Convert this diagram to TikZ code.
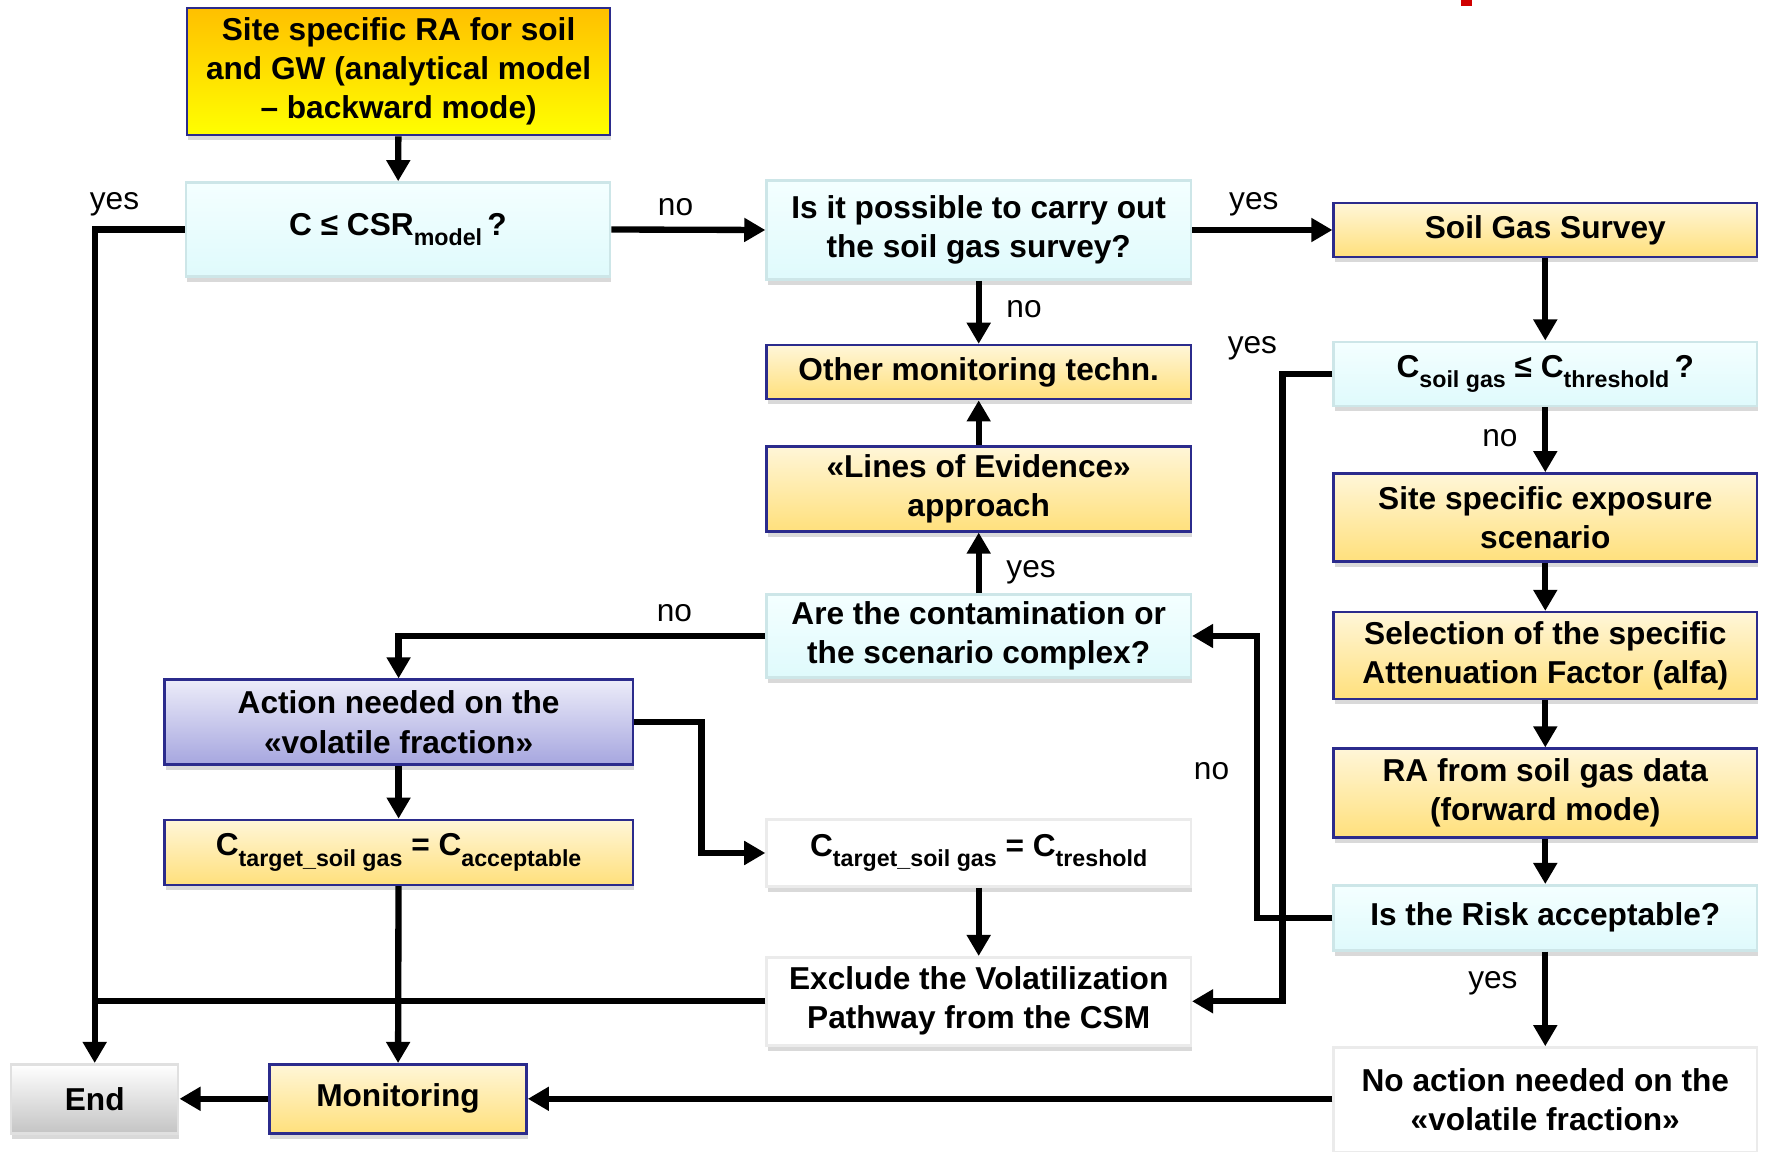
\documentclass[tikz,border=0pt]{standalone}
\usepackage{fontspec}
\setmainfont{Liberation Sans}
\usetikzlibrary{arrows.meta,shadows}

\definecolor{navyline}{HTML}{2B2B8C}
\definecolor{goldtop}{HTML}{FFC000}
\definecolor{goldbot}{HTML}{FFFF00}
\definecolor{creamtop}{HTML}{FFF6D8}
\definecolor{creambot}{HTML}{FFE07C}
\definecolor{icetop}{HTML}{F4FFFF}
\definecolor{icebot}{HTML}{DFFAFC}
\definecolor{iceline}{HTML}{CDE6E8}
\definecolor{lilactop}{HTML}{ECECF9}
\definecolor{lilacbot}{HTML}{A6A6DF}
\definecolor{greybot}{HTML}{C4C4C4}
\definecolor{markred}{HTML}{D00000}

\newcommand{\lowsub}[1]{\raisebox{-0.6ex}{\fontsize{6.6}{7}\selectfont #1}}

\begin{document}
\begin{tikzpicture}[x=0.01cm, y=-0.01cm, >={Triangle[length=6pt,width=6.5pt]},
	box/.style = {rectangle, align=center, inner sep=0pt, minimum width=4.24cm,
		font=\fontsize{9}{11.1}\selectfont\bfseries,
		drop shadow={shadow xshift=0.3pt, shadow yshift=-1.5pt, opacity=0.3}},
	gold/.style = {box, draw=navyline, line width=0.7pt, top color=goldtop, bottom color=goldbot},
	cream/.style = {box, draw=navyline, line width=0.7pt, top color=creamtop, bottom color=creambot},
	ice/.style = {box, draw=iceline, line width=0.7pt, top color=icetop, bottom color=icebot},
	lilac/.style = {box, draw=navyline, line width=0.7pt, top color=lilactop, bottom color=lilacbot},
	plain/.style = {box, draw=black!8, line width=0.7pt, fill=white},
	grey/.style = {box, draw=black!12, line width=0.7pt, top color=white, bottom color=greybot},
	lbl/.style = {inner xsep=7pt, inner ysep=3pt, font=\fontsize{9}{10.7}\selectfont},
	conn/.style = {line width=1.8pt},
	flow/.style = {conn, ->}]
	\useasboundingbox (0,0) rectangle (1768,1152);
	\fill[markred] (1461,0) rectangle (1472,6);

	\node[gold, minimum width=4.23cm, minimum height=1.27cm] (ra) at (398.6,71.6) {Site specific RA for soil\\and GW (analytical model\\– backward mode)};
	\node[ice, minimum height=0.94cm] (csr) at (398,229.5) {C ≤ CSR\lowsub{model}\,?};
	\node[ice, minimum height=0.99cm] (possible) at (978.7,230) {Is it possible to carry out\\the soil gas survey?};
	\node[cream, minimum width=4.23cm, minimum height=0.54cm] (survey) at (1545.3,230) {Soil Gas Survey};
	\node[cream, minimum height=0.54cm] (other) at (978.7,372.1) {Other monitoring techn.};
	\node[cream, minimum height=0.85cm] (loe) at (978.7,488.8) {«Lines of Evidence»\\approach};
	\node[ice, minimum height=0.83cm] (complex) at (978.7,636) {Are the contamination or\\the scenario complex?};
	\node[ice, minimum width=4.23cm, minimum height=0.64cm] (csoil) at (1545.3,373.8) {C\lowsub{soil gas} ≤ C\lowsub{threshold}\,?};
	\node[cream, minimum width=4.23cm, minimum height=0.88cm] (expo) at (1545.3,517.5) {Site specific exposure\\scenario};
	\node[cream, minimum width=4.23cm, minimum height=0.87cm] (alfa) at (1545.3,655.7) {Selection of the specific\\Attenuation Factor (alfa)};
	\node[cream, minimum width=4.23cm, minimum height=0.89cm] (forward) at (1545.3,793.2) {RA from soil gas data\\(forward mode)};
	\node[ice, minimum width=4.23cm, minimum height=0.65cm] (risk) at (1545.3,917.8) {Is the Risk acceptable?};
	\node[plain, minimum width=4.23cm, minimum height=1.05cm] (noaction) at (1545.3,1100) {No action needed on the\\«volatile fraction»};
	\node[lilac, minimum width=4.68cm, minimum height=0.85cm] (action) at (398.6,722.2) {Action needed on the\\«volatile fraction»};
	\node[cream, minimum width=4.68cm, minimum height=0.65cm] (cacc) at (398.6,852.4) {C\lowsub{target\_soil gas} = C\lowsub{acceptable}};
	\node[plain, minimum height=0.67cm] (ctres) at (978.7,853) {C\lowsub{target\_soil gas} = C\lowsub{treshold}};
	\node[plain, minimum height=0.88cm] (exclude) at (978.7,1001.3) {Exclude the Volatilization\\Pathway from the CSM};
	\node[grey, minimum width=1.67cm, minimum height=0.69cm] (endn) at (94.7,1098.8) {End};
	\node[cream, minimum width=2.57cm, minimum height=0.69cm] (monitor) at (398,1098.8) {Monitoring};

	\draw[flow] (ra) -- (csr);
	\draw[flow] (csr.west) -| (endn.north) node[lbl, pos=0.39, above] (yes1) {yes};
	\draw[flow] (csr.east) -- (possible.west) node[lbl, pos=0.417, above] (no1) {no};
	\draw[flow] (possible) -- (survey) node[lbl, pos=0.44, above] (yes2) {yes};
	\draw[flow] (possible) -- (other) node[lbl, pos=0.45, right] (no2) {no};
	\draw[flow] (loe) -- (other);
	\draw[flow] (complex) -- (loe) node[lbl, pos=0.34, right] (yes3) {yes};
	\draw[flow] (complex.west) -| (action.north) node[lbl, pos=0.124, above] (no3) {no};
	\draw[flow] (survey) -- (csoil);
	\draw[flow] (csoil) -- (expo) node[lbl, pos=0.47, left] (no4) {no};
	\draw[flow] (csoil.west) -- ++(-50,0) node[lbl, pos=1, above, xshift=-0.3cm] (yes4) {yes} |- (exclude.east);
	\draw[flow] (expo) -- (alfa);
	\draw[flow] (alfa) -- (forward);
	\draw[flow] (forward) -- (risk);
	\draw[flow] (risk.west) -- ++(-75.5,0) |- (complex.east) node[lbl, pos=0.26, left] (no5) {no};
	\draw[flow] (risk) -- (noaction) node[lbl, pos=0.34, left] (yes5) {yes};
	\draw[flow] (action) -- (cacc);
	\draw[flow] (action.east) -- ++(67.4,0) |- (ctres.west);
	\draw[flow] (cacc) -- (monitor);
	\draw[flow] (ctres) -- (exclude);
	\draw[conn] (exclude.west) -- (exclude.west -| endn.north);
	\draw[flow] (noaction.west |- monitor.east) -- (monitor.east);
	\draw[flow] (monitor) -- (endn);
\end{tikzpicture}
\end{document}
